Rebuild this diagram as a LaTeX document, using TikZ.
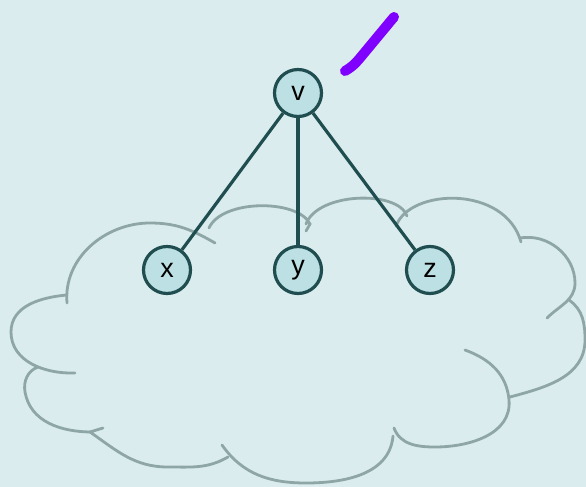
\documentclass[tikz,border=0pt]{standalone}
\usepackage{fontspec}
\setmainfont{Liberation Sans}
\definecolor{bg}{RGB}{218,236,238}
\definecolor{nodefill}{RGB}{188,224,227}
\definecolor{nodeline}{RGB}{32,78,80}
\definecolor{cloudline}{RGB}{142,166,166}
\definecolor{pen}{RGB}{128,0,255}
\begin{document}
\begin{tikzpicture}[x=1bp,y=-1bp,
  vert/.style={circle,draw=nodeline,fill=nodefill,line width=3.2bp,minimum size=47bp,inner sep=0pt,font=\fontsize{27}{27}\selectfont},
  edge/.style={draw=nodeline,line width=3.2bp},
  lobe/.style={draw=cloudline,line width=2.8bp,line cap=round}]
\fill[bg] (0,0) rectangle (586,487);
\useasboundingbox (0,0) rectangle (586,487);
% cloud
\draw[lobe] (75,373) to[out=182,in=-90] (11,332) to[out=90,in=185] (67,295);
\draw[lobe] (67,303) to[out=95,in=180] (150,223) to[out=0,in=150] (215,243);
\draw[lobe] (209,228) .. controls (222,199) and (298,199) .. (310,224) -- (306,231);
\draw[lobe] (306,224) .. controls (318,192) and (398,190) .. (407,216);
\draw[lobe] (396,226) .. controls (410,188) and (505,185) .. (521,242);
\draw[lobe] (520,238) to[out=10,in=90] (575,283) to[out=-90,in=45] (547,318);
\draw[lobe] (569,300) to[out=-35,in=90] (585,340) to[out=-90,in=15] (510,397);
\draw[lobe] (465,350) to[out=-20,in=95] (509,400) to[out=-85,in=0] (435,447) to[out=180,in=-70] (394,428);
\draw[lobe] (393,436) to[out=-95,in=0] (306,483) to[out=180,in=-55] (222,445);
\draw[lobe] (228,457) to[out=-150,in=0] (168,467) to[out=180,in=-35] (90,432) -- (103,428);
\draw[lobe] (92,432) to[out=180,in=-80] (25,392) to[out=100,in=-160] (38,367);
% purple stroke
\draw[pen,line width=10bp,line cap=round] (345,71) to[out=30,in=-130] (360,58) -- (394,17);
% graph
\node[vert] (v) at (298,93) {v};
\node[vert] (x) at (167,270) {x};
\node[vert] (y) at (298,270) {y};
\node[vert] (z) at (430,270) {z};
\draw[edge] (v) -- (x);
\draw[edge] (v) -- (y);
\draw[edge] (v) -- (z);
\end{tikzpicture}
\end{document}
